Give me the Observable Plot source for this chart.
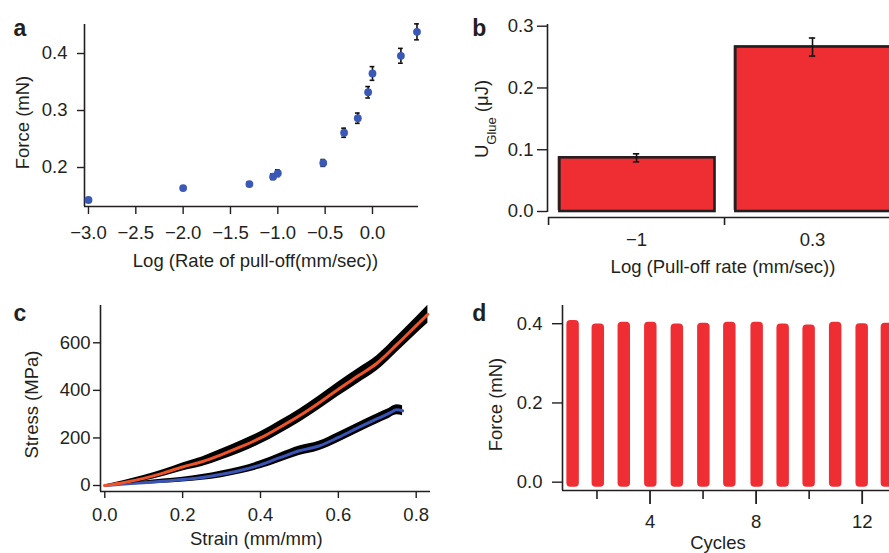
<!DOCTYPE html>
<html><head><meta charset="utf-8">
<script src="https://cdn.jsdelivr.net/npm/d3@7"></script>
<script src="https://cdn.jsdelivr.net/npm/@observablehq/plot@0.6"></script>
<style>
html,body{margin:0;padding:0;background:#fff;overflow:hidden;}
#fig{position:relative;width:889px;height:553px;overflow:hidden;background:#fff;}
.panel{position:absolute;overflow:hidden;}
</style></head><body><div id="fig"></div>
<script>
// ---------- Panel a: force vs log pull-off rate ----------
const rateLog   = [-3.0, -2.0, -1.3, -1.05, -1.0, -0.52, -0.30, -0.155, -0.046, 0.0, 0.30, 0.47];
const forceA    = [0.143, 0.164, 0.171, 0.184, 0.190, 0.208, 0.261, 0.2865, 0.332, 0.365, 0.396, 0.438];
const forceAErr = [0.003, 0.003, 0.004, 0.005, 0.006, 0.006, 0.008, 0.009, 0.010, 0.012, 0.013, 0.014];
const aXTicks = [-3.0, -2.5, -2.0, -1.5, -1.0, -0.5, 0.0];
const aYTicks = [0.2, 0.3, 0.4];

// ---------- Panel b: glue energy bars ----------
const bCats = ["\u22121", "0.3"];
const bVals = [0.0869, 0.2663];
const bErr  = [0.0065, 0.0146];
const bYTicks = [0.0, 0.1, 0.2, 0.3];

// ---------- Panel c: stress-strain ----------
const strainRed = [0.00, 0.05, 0.10, 0.15, 0.20, 0.25, 0.30, 0.35, 0.40, 0.45, 0.50, 0.55, 0.60, 0.65, 0.70, 0.75, 0.80, 0.83];
const stressRed = [0, 13, 30, 52, 78, 100, 130, 163, 200, 245, 293, 347, 405, 460, 515, 592, 672, 720];
const sdRed     = [2, 8, 12, 14, 17, 20, 23, 25, 26, 27, 28, 29, 30, 31, 32, 33, 35, 38];
const strainBlue = [0.00, 0.05, 0.10, 0.15, 0.20, 0.25, 0.30, 0.35, 0.40, 0.45, 0.50, 0.55, 0.60, 0.65, 0.70, 0.73, 0.75, 0.765];
const stressBlue = [0, 6, 12, 18, 25, 34, 47, 64, 87, 117, 146, 166, 202, 242, 281, 303, 318, 314];
const sdBlue     = [2, 5, 7, 9, 10, 12, 14, 15, 17, 19, 20, 20, 21, 21, 21, 21, 21, 21];
const cXTicks = [0.0, 0.2, 0.4, 0.6, 0.8];
const cYTicks = [0, 200, 400, 600];

// ---------- Panel d: cyclic force ----------
const cycles    = [1.1, 2.05, 3.03, 4.03, 5.03, 6.03, 7.01, 8.04, 9.02, 10.0, 11.0, 12.0, 12.95];
const cycleTop  = [0.408, 0.399, 0.404, 0.404, 0.399, 0.401, 0.404, 0.404, 0.399, 0.397, 0.404, 0.400, 0.401];
const cycleMin  = -0.013;
const cycleWidth = 0.47;
const dXMajor = [4, 8, 12];
const dXMinor = [2, 6, 10];
const dYTicks = [0.0, 0.2, 0.4];

// ---------- styling ----------
const ink = "#231f20";
const blue = "#3a58b6";
const red = "#ee2e33";
const redLine = "#f0552a";
const blueLine = "#3a55b5";
const font = "'Liberation Sans', Arial, Helvetica, sans-serif";
const baseStyle = {fontFamily: font, fontSize: "18.5px", color: ink, background: "white"};
const fmt1 = d3.format(".1f");
const fmt0 = d3.format("d");

const fig = document.getElementById("fig");
function place(svg, left, top, w, h) {
  const div = document.createElement("div");
  div.className = "panel";
  div.style.left = left + "px"; div.style.top = top + "px";
  div.style.width = w + "px"; div.style.height = h + "px";
  div.appendChild(svg);
  fig.appendChild(div);
}

// ----- Panel a -----
{
  const xd = [-3.042, 0.486], yd = [0.1316, 0.4509];
  const idx = d3.range(rateLog.length);
  const pa = Plot.plot({
    width: 440, height: 285, marginLeft: 84, marginRight: 22, marginTop: 24, marginBottom: 79,
    x: {domain: xd}, y: {domain: yd},
    style: baseStyle,
    marks: [
      Plot.ruleX([xd[0]], {stroke: ink, strokeWidth: 1.6}),
      Plot.ruleY([yd[0]], {stroke: ink, strokeWidth: 1.6}),
      Plot.axisY({ticks: aYTicks, tickSize: 7, tickPadding: 10, tickFormat: fmt1, label: null, stroke: ink, strokeWidth: 1.4, fill: ink}),
      Plot.axisX({ticks: aXTicks, tickSize: 8, tickPadding: 11, tickFormat: fmt1, label: null, stroke: ink, strokeWidth: 1.4, fill: ink}),
      Plot.ruleX(idx, {x: i => rateLog[i], y1: i => forceA[i] - forceAErr[i], y2: i => forceA[i] + forceAErr[i], stroke: "#111", strokeWidth: 1.6}),
      Plot.ruleY(idx, {x1: i => rateLog[i] - 0.025, x2: i => rateLog[i] + 0.025, y: i => forceA[i] - forceAErr[i], stroke: "#111", strokeWidth: 1.6}),
      Plot.ruleY(idx, {x1: i => rateLog[i] - 0.025, x2: i => rateLog[i] + 0.025, y: i => forceA[i] + forceAErr[i], stroke: "#111", strokeWidth: 1.6}),
      Plot.dot(idx, {x: i => rateLog[i], y: i => forceA[i], r: 3.9, fill: blue, stroke: null}),
      Plot.text(["a"], {frameAnchor: "top-left", dx: -71, dy: 11, textAnchor: "start", lineAnchor: "bottom", fontSize: 23, fontWeight: "bold", fill: ink}),
      Plot.text(["Force (mN)"], {frameAnchor: "left", dx: -61, dy: 7, rotate: -90, textAnchor: "middle", lineAnchor: "middle", fill: ink}),
      Plot.text(["Log (Rate of pull-off(mm/sec))"], {frameAnchor: "bottom", dx: 4, dy: 60, textAnchor: "middle", lineAnchor: "bottom", fill: ink})
    ]
  });
  place(pa, 0, 0, 440, 285);
}

// ----- Panel b -----
{
  const xd = [-0.506, 1.5], yd = [-0.0097, 0.30275];
  const idx = d3.range(bVals.length);
  const pb = Plot.plot({
    width: 449, height: 285, marginLeft: 107, marginRight: 0, marginTop: 24, marginBottom: 68,
    x: {domain: xd, range: [107, 460]}, y: {domain: yd},
    style: baseStyle,
    marks: [
      Plot.ruleX([xd[0]], {y1: -0.0016, y2: yd[1], stroke: ink, strokeWidth: 1.6}),
      Plot.ruleY([yd[0]], {x1: -0.5, x2: 1.5, stroke: ink, strokeWidth: 1.6}),
      Plot.axisY({ticks: bYTicks, tickSize: 10, tickPadding: 4, tickFormat: fmt1, label: null, stroke: ink, strokeWidth: 1.4, fill: ink}),
      Plot.axisX({ticks: [-0.5, 0.5, 1.5], tickSize: 8, tickFormat: () => "", label: null, stroke: ink, strokeWidth: 1.6}),
      Plot.axisX({ticks: idx, tickSize: 0, tickPadding: 15, tickFormat: i => bCats[i], label: null, fill: ink}),
      Plot.rect(idx, {x1: i => i - 0.5, x2: i => i + 0.5, y1: 0, y2: i => bVals[i], insetLeft: 9.5, insetRight: 10.5, dy: -1.2, fill: red}),
      Plot.rect(idx, {x1: i => i - 0.5, x2: i => i + 0.5, y1: 0, y2: i => bVals[i], insetLeft: 11.3, insetRight: 9.5, fill: red, stroke: ink, strokeWidth: 2.6}),
      Plot.ruleX(idx, {x: i => i, y1: i => bVals[i] - bErr[i], y2: i => bVals[i] + bErr[i], stroke: "#111", strokeWidth: 1.6}),
      Plot.ruleY(idx, {x1: i => i - 0.018, x2: i => i + 0.018, y: i => bVals[i] - bErr[i], stroke: "#111", strokeWidth: 1.6}),
      Plot.ruleY(idx, {x1: i => i - 0.018, x2: i => i + 0.018, y: i => bVals[i] + bErr[i], stroke: "#111", strokeWidth: 1.6}),
      Plot.text(["b"], {frameAnchor: "top-left", dx: -75.3, dy: 11, textAnchor: "start", lineAnchor: "bottom", fontSize: 23, fontWeight: "bold", fill: ink}),
      Plot.text(["U_Glue (\u03bcJ)"], {frameAnchor: "left", dx: -65, dy: -2, rotate: -90, textAnchor: "middle", lineAnchor: "middle", fill: ink}),
      Plot.text(["Log (Pull-off rate (mm/sec))"], {frameAnchor: "bottom", dx: 4.5, dy: 55, textAnchor: "middle", lineAnchor: "bottom", fill: ink})
    ]
  });
  d3.select(pb).selectAll("text").filter(function() { return this.textContent === "U_Glue (\u03bcJ)"; })
    .each(function() {
      const t = d3.select(this);
      t.text(null);
      t.append("tspan").text("U");
      t.append("tspan").attr("baseline-shift", "sub").attr("font-size", 13).text("Glue");
      t.append("tspan").text(" (\u03bcJ)");
    });
  place(pb, 440, 0, 449, 285);
}

// ----- Panel c -----
{
  const xd = [-0.011, 0.8367], yd = [-25.2, 756.8];
  const red_ = strainRed.map((s, i) => ({s, v: stressRed[i], e: sdRed[i]}));
  const blue_ = strainBlue.map((s, i) => ({s, v: stressBlue[i], e: sdBlue[i]}));
  const pc = Plot.plot({
    width: 440, height: 268, marginLeft: 100, marginRight: 10, marginTop: 20, marginBottom: 62,
    x: {domain: xd}, y: {domain: yd},
    style: baseStyle,
    marks: [
      Plot.ruleX([xd[0]], {stroke: ink, strokeWidth: 1.6}),
      Plot.ruleY([yd[0]], {stroke: ink, strokeWidth: 1.6}),
      Plot.axisY({ticks: cYTicks, tickSize: 7, tickPadding: 3, tickFormat: fmt0, label: null, stroke: ink, strokeWidth: 1.4, fill: ink}),
      Plot.axisX({ticks: cXTicks, tickSize: 7, tickPadding: 9, tickFormat: fmt1, label: null, stroke: ink, strokeWidth: 1.4, fill: ink}),
      Plot.areaY(blue_, {x: "s", y1: d => d.v - d.e, y2: d => d.v + d.e, fill: "#000", curve: "monotone-x"}),
      Plot.line(blue_, {x: "s", y: "v", stroke: blueLine, strokeWidth: 3, curve: "monotone-x"}),
      Plot.areaY(red_, {x: "s", y1: d => d.v - d.e, y2: d => d.v + d.e, fill: "#000", curve: "monotone-x"}),
      Plot.line(red_, {x: "s", y: "v", stroke: redLine, strokeWidth: 3, curve: "monotone-x"}),
      Plot.text(["c"], {frameAnchor: "top-left", dx: -87, dy: 15.7, textAnchor: "start", lineAnchor: "bottom", fontSize: 23, fontWeight: "bold", fill: ink}),
      Plot.text(["Stress (MPa)"], {frameAnchor: "left", dx: -68.3, dy: 6, rotate: -90, textAnchor: "middle", lineAnchor: "middle", fill: ink}),
      Plot.text(["Strain (mm/mm)"], {frameAnchor: "bottom", dx: -9.2, dy: 53, textAnchor: "middle", lineAnchor: "bottom", fill: ink})
    ]
  });
  place(pc, 0, 285, 440, 268);
}

// ----- Panel d -----
{
  const xd = [0.70, 13.03], yd = [-0.021, 0.446];
  const idx = d3.range(cycles.length);
  const pd = Plot.plot({
    width: 449, height: 268, marginLeft: 122, marginRight: 0, marginTop: 20, marginBottom: 63,
    x: {domain: xd}, y: {domain: yd},
    style: baseStyle,
    marks: [
      Plot.ruleX([xd[0]], {stroke: ink, strokeWidth: 1.6}),
      Plot.ruleY([yd[0]], {stroke: ink, strokeWidth: 1.6}),
      Plot.axisY({ticks: dYTicks, tickSize: 10, tickPadding: 10, tickFormat: fmt1, label: null, stroke: ink, strokeWidth: 1.4, fill: ink}),
      Plot.axisX({ticks: dXMinor, tickSize: 9, tickFormat: () => "", label: null, stroke: ink, strokeWidth: 1.6}),
      Plot.axisX({ticks: dXMajor, tickSize: 14, tickPadding: 10, tickFormat: fmt0, label: null, stroke: ink, strokeWidth: 1.8, fill: ink}),
      Plot.rect(idx, {x1: i => cycles[i] - cycleWidth / 2, x2: i => cycles[i] + cycleWidth / 2, y1: cycleMin, y2: i => cycleTop[i], fill: red, rx: 4}),
      Plot.text(["d"], {frameAnchor: "top-left", dx: -90.3, dy: 15.7, textAnchor: "start", lineAnchor: "bottom", fontSize: 23, fontWeight: "bold", fill: ink}),
      Plot.text(["Force (mN)"], {frameAnchor: "left", dx: -66.5, dy: 6.5, rotate: -90, textAnchor: "middle", lineAnchor: "middle", fill: ink}),
      Plot.text(["Cycles"], {frameAnchor: "bottom", dx: -8, dy: 58.5, textAnchor: "middle", lineAnchor: "bottom", fill: ink})
    ]
  });
  place(pd, 440, 285, 449, 268);
}
</script></body></html>
